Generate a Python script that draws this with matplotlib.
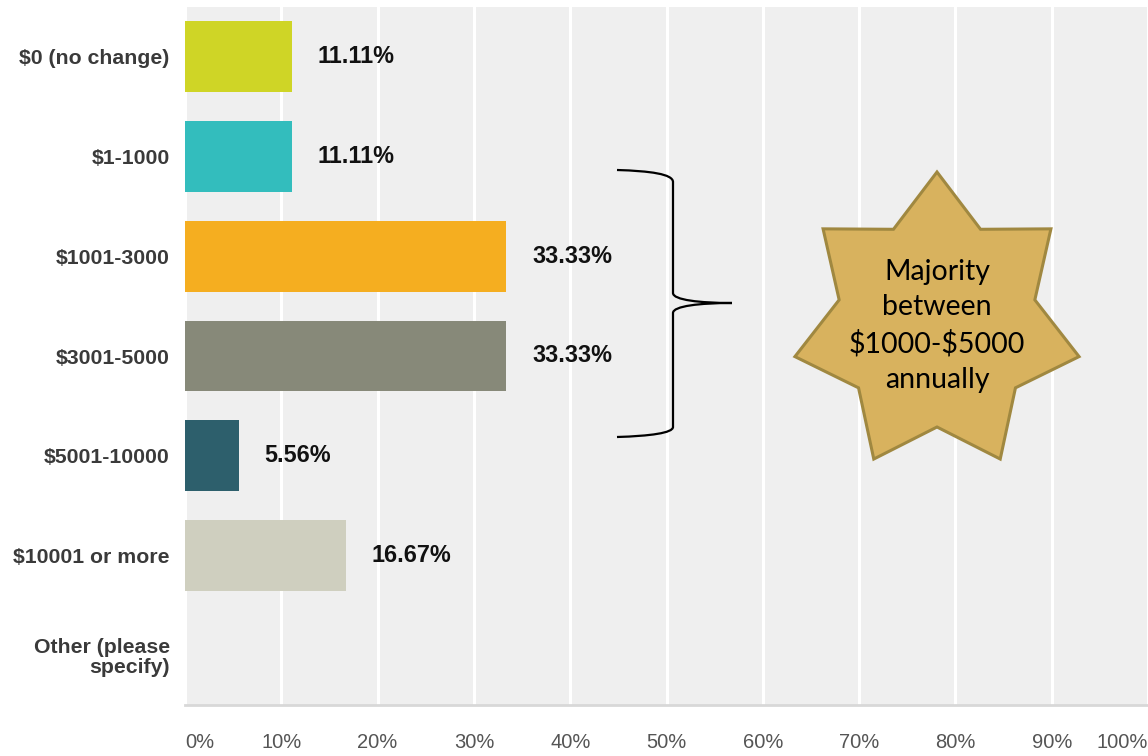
import numpy as np
import matplotlib
matplotlib.use("Agg")
import matplotlib.pyplot as plt
from matplotlib.path import Path
from matplotlib.patches import PathPatch, Polygon

categories = ["$0 (no change)", "$1-1000", "$1001-3000", "$3001-5000",
              "$5001-10000", "$10001 or more", "Other (please\nspecify)"]
values = [11.11, 11.11, 33.33, 33.33, 5.56, 16.67, 0.0]
value_labels = ["11.11%", "11.11%", "33.33%", "33.33%", "5.56%", "16.67%", ""]
bar_colors = ["#cfd526", "#33bdbd", "#f5ae20", "#878979", "#2d5f6c", "#cfcfbf", "#cccccc"]
x_ticks = [0, 10, 20, 30, 40, 50, 60, 70, 80, 90, 100]
x_tick_labels = ["0%", "10%", "20%", "30%", "40%", "50%", "60%", "70%", "80%", "90%", "100%"]
star_text = "Majority\nbetween\n\\$1000-\\$5000\nannually"

W, H = 1148, 756
fig = plt.figure(figsize=(W / 100, H / 100), dpi=100)
fig.patch.set_facecolor("white")

ax = fig.add_axes([185 / W, (H - 705) / H, 1 - 185 / W, (705 - 7) / H])
ax.set_facecolor("#efefef")
y = np.arange(len(categories))
ax.barh(y, values, height=0.71, color=bar_colors, zorder=3)
ax.set_xlim(0, 100)
ax.set_ylim(len(categories) - 0.5, -0.5)
ax.set_xticks(x_ticks)
ax.set_xticklabels(x_tick_labels)
ax.grid(axis="x", color="white", linewidth=2.2, zorder=1)
ax.set_axisbelow(True)
ax.tick_params(axis="x", length=0, pad=20, labelsize=14.5, labelcolor="#555555")
ax.tick_params(axis="y", length=0, pad=11)
for lbl in ax.get_xticklabels():
    lbl.set_fontfamily("Liberation Sans")
tl = ax.get_xticklabels()
tl[0].set_ha("left")
tl[-1].set_ha("right")
ax.set_yticks(y)
ax.set_yticklabels([c.replace("$", "\\$") for c in categories],
                   fontfamily="Liberation Sans", fontweight="bold",
                   fontsize=15.3, color="#3a3a3a", linespacing=1.05)
for s in ["top", "left", "right"]:
    ax.spines[s].set_visible(False)
ax.spines["bottom"].set_color("#d8d8d8")
ax.spines["bottom"].set_linewidth(2)

for yi, v, t in zip(y, values, value_labels):
    if t:
        ax.annotate(t, xy=(v, yi), xytext=(18.7, 0), textcoords="offset points",
                    ha="left", va="center", fontsize=16.8, fontweight="bold",
                    fontfamily="Liberation Sans", color="#111111")

# overlay in pixel coordinates for annotations
ov = fig.add_axes([0, 0, 1, 1], facecolor="none")
ov.set_xlim(0, W)
ov.set_ylim(H, 0)
ov.axis("off")

# brace
verts = [(617, 170), (650, 171), (673, 174), (673, 182),
         (673, 293),
         (673, 300), (700, 303), (732, 303),
         (700, 303), (673, 306), (673, 313),
         (673, 427),
         (673, 433), (650, 436), (617, 437)]
codes = [Path.MOVETO, Path.CURVE4, Path.CURVE4, Path.CURVE4,
         Path.LINETO,
         Path.CURVE4, Path.CURVE4, Path.CURVE4,
         Path.CURVE4, Path.CURVE4, Path.CURVE4,
         Path.LINETO,
         Path.CURVE4, Path.CURVE4, Path.CURVE4]
ov.add_patch(PathPatch(Path(verts, codes), facecolor="none", edgecolor="black", lw=1.6))

# seven-pointed star
cx, cy, R, r = 937, 323, 151, 104
pts = []
for k in range(14):
    ang = np.pi / 2 - k * np.pi / 7
    rad = R if k % 2 == 0 else r
    pts.append((cx + 0.965 * rad * np.cos(ang), cy - rad * np.sin(ang)))
ov.add_patch(Polygon(pts, closed=True, facecolor="#d8b25e", edgecolor="#a08840", lw=2.2))
ov.text(cx, 326, star_text, ha="center", va="center", fontsize=20.5,
        fontfamily="Lato", color="black", linespacing=1.45)

fig.savefig("out.png", dpi=100)
